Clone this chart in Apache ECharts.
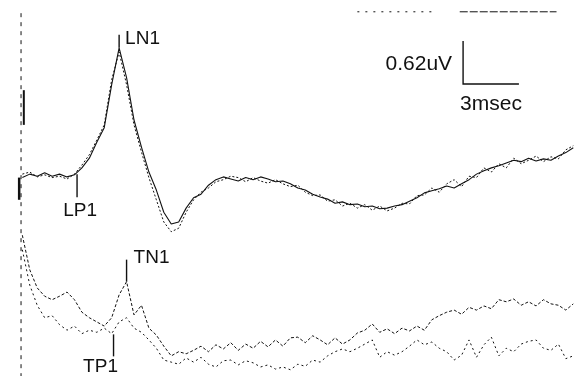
<!DOCTYPE html>
<html>
<head>
<meta charset="utf-8">
<script src="https://cdn.jsdelivr.net/npm/echarts@6/dist/echarts.min.js"></script>
<style>
  html, body { margin: 0; padding: 0; background: #fff; }
  #chart { width: 577px; height: 376px; }
</style>
</head>
<body>
<div id="chart"></div>
<script>
// Sampling grid of the averaged sweeps (ms after the stimulus)
const sampleStartMs = 0.2;
const sampleStepMs = 0.4;

// Upper channel (L waves), two superimposed runs, in uV
const upperRun1 = [
  2.86, 2.91, 2.88, 2.93, 2.88, 2.91, 2.87, 2.90, 3.00, 3.14,
  3.37, 3.58, 4.20, 4.73, 4.30, 3.69, 3.30, 2.94, 2.68, 2.36,
  2.19, 2.22, 2.42, 2.57, 2.62, 2.75, 2.83, 2.87, 2.84, 2.81,
  2.86, 2.83, 2.87, 2.84, 2.80, 2.81, 2.77, 2.71, 2.68, 2.62,
  2.58, 2.55, 2.49, 2.51, 2.47, 2.48, 2.44, 2.45, 2.41, 2.42,
  2.45, 2.47, 2.52, 2.57, 2.64, 2.67, 2.70, 2.74, 2.71, 2.77,
  2.83, 2.91, 2.96, 3.00, 3.03, 3.07, 3.11, 3.09, 3.14, 3.10,
  3.13, 3.11, 3.17, 3.22, 3.29
];
const upperRun2 = [
  2.91, 2.94, 2.87, 2.90, 2.86, 2.88, 2.84, 2.91, 3.04, 3.19,
  3.40, 3.62, 4.27, 4.67, 4.20, 3.62, 3.23, 2.86, 2.54, 2.22,
  2.08, 2.13, 2.36, 2.54, 2.65, 2.71, 2.80, 2.83, 2.88, 2.86,
  2.80, 2.86, 2.81, 2.78, 2.83, 2.77, 2.73, 2.75, 2.65, 2.60,
  2.61, 2.52, 2.54, 2.45, 2.49, 2.42, 2.47, 2.39, 2.45, 2.38,
  2.42, 2.49, 2.48, 2.60, 2.61, 2.71, 2.65, 2.77, 2.83, 2.73,
  2.88, 2.86, 3.00, 2.94, 3.06, 3.00, 3.14, 3.06, 3.11, 3.17,
  3.09, 3.16, 3.13, 3.26, 3.32
];

// Lower channel (T waves), two superimposed runs, in uV
const lowerRun1 = [
  2.03, 1.53, 1.27, 1.15, 1.10, 1.15, 1.21, 1.10, 0.92, 0.84,
  0.78, 0.72, 0.84, 1.17, 1.36, 0.88, 1.02, 0.69, 0.59, 0.43,
  0.29, 0.35, 0.32, 0.37, 0.43, 0.35, 0.45, 0.39, 0.48, 0.37,
  0.46, 0.40, 0.50, 0.42, 0.52, 0.43, 0.55, 0.56, 0.48, 0.58,
  0.52, 0.45, 0.55, 0.46, 0.52, 0.62, 0.66, 0.75, 0.63, 0.68,
  0.61, 0.69, 0.65, 0.72, 0.66, 0.81, 0.87, 0.92, 0.95, 0.89,
  0.99, 0.95, 1.01, 0.97, 1.10, 1.07, 1.11, 1.02, 1.07, 1.01,
  1.10, 1.04, 1.02, 0.95, 1.04
];
const lowerRun2 = [
  1.82, 1.31, 1.02, 0.84, 0.87, 0.74, 0.66, 0.72, 0.61, 0.66,
  0.63, 0.69, 0.61, 0.78, 0.84, 0.69, 0.63, 0.52, 0.40, 0.23,
  0.20, 0.17, 0.26, 0.20, 0.27, 0.17, 0.13, 0.22, 0.23, 0.16,
  0.22, 0.19, 0.13, 0.16, 0.10, 0.13, 0.09, 0.17, 0.14, 0.23,
  0.20, 0.29, 0.35, 0.39, 0.35, 0.40, 0.46, 0.52, 0.27, 0.35,
  0.30, 0.35, 0.43, 0.52, 0.45, 0.49, 0.40, 0.35, 0.23, 0.30,
  0.52, 0.27, 0.45, 0.56, 0.29, 0.40, 0.35, 0.46, 0.50, 0.52,
  0.40, 0.37, 0.46, 0.25, 0.29
];

// Labelled components: latency (ms) and amplitude (uV)
const peakNames = ['LN1', 'LP1', 'TN1', 'TP1'];
const peakLatencyMs = [5.4, 3.14, 5.8, 5.1];
const peakAmplitudeUV = [4.73, 2.91, 1.36, 0.60];

// Calibration
const scaleBarUV = 0.62;
const scaleBarMs = 3;

// Stimulus artifact (ms) and its extent (uV)
const artifactMs = 0.13;
const artifactSpanUV = [0, 5.23];
const artifactBurstsUV = [[4.12, 3.62], [2.86, 2.54]];

// Fragment of a further sweep along the top edge
const topSweepA = [[18.2, 5.25], [22.3, 5.25]];
const topSweepB = [[23.7, 5.25], [28.9, 5.25]];

// ---- layout / styling ----
const times = upperRun1.map((_, i) => +(sampleStartMs + i * sampleStepMs).toFixed(2));
const pairs = (vals) => vals.map((v, i) => [times[i], v]);

const INK = '#111';
const labelFont = '19px "Liberation Sans", Arial, sans-serif';
const scaleFont = '21px "Liberation Sans", Arial, sans-serif';

// tick length (px, negative = upward) and label offsets for each component
const markerLayout = [
  { tick: -13, dx: 6, dy: 4, align: 'left' },
  { tick: 23, dx: 3, dy: 14, align: 'center' },
  { tick: -22, dx: 7, dy: -2, align: 'left' },
  { tick: 22, dx: -13, dy: 10, align: 'center' }
];
const scaleCorner = [23.88, 4.21];

const traceLine = (name, data, width, dash) => ({
  name, type: 'line', data, showSymbol: false, symbol: 'none', silent: true,
  lineStyle: { color: INK, width, type: dash || 'solid' }, z: 2
});

const chart = echarts.init(document.getElementById('chart'), null, { renderer: 'canvas' });

chart.setOption({
  animation: false,
  backgroundColor: '#fff',
  grid: { left: 0, right: 0, top: 0, bottom: 0 },
  xAxis: { type: 'value', min: -1, max: 30, show: false },
  yAxis: { type: 'value', min: 0, max: 5.42, show: false },
  series: [
    traceLine('upper-1', pairs(upperRun1), 1.1),
    traceLine('upper-2', pairs(upperRun2), 1, [2, 2]),
    traceLine('lower-1', pairs(lowerRun1), 1, [3, 2]),
    traceLine('lower-2', pairs(lowerRun2), 1, [2, 3]),
    traceLine('artifact', [[artifactMs, artifactSpanUV[1]], [artifactMs, artifactSpanUV[0]]], 1, [4, 5]),
    traceLine('burst-1', [[artifactMs + 0.15, artifactBurstsUV[0][0]], [artifactMs + 0.15, artifactBurstsUV[0][1]]], 2),
    traceLine('burst-2', [[artifactMs - 0.1, artifactBurstsUV[1][0]], [artifactMs - 0.1, artifactBurstsUV[1][1]]], 2.5),
    traceLine('top-a', topSweepA, 1, [2, 6]),
    traceLine('top-b', topSweepB, 1, [8, 2]),
    {
      name: 'components',
      type: 'custom',
      silent: true,
      z: 5,
      data: peakNames.map((n, i) => [peakLatencyMs[i], peakAmplitudeUV[i]]),
      renderItem(params, api) {
        const i = params.dataIndex;
        const p = api.coord([api.value(0), api.value(1)]);
        const lay = markerLayout[i];
        const y2 = p[1] + lay.tick;
        return {
          type: 'group',
          children: [
            { type: 'line', shape: { x1: p[0], y1: p[1], x2: p[0], y2 },
              style: { stroke: INK, lineWidth: 1.4 } },
            { type: 'text', x: p[0] + lay.dx, y: y2 + lay.dy,
              style: { text: peakNames[i], font: labelFont, fill: INK,
                       align: lay.align, verticalAlign: 'middle' } }
          ]
        };
      }
    },
    {
      name: 'calibration',
      type: 'custom',
      silent: true,
      z: 5,
      data: [scaleCorner],
      renderItem(params, api) {
        const c = [api.value(0), api.value(1)];
        const corner = api.coord(c);
        const top = api.coord([c[0], c[1] + scaleBarUV]);
        const right = api.coord([c[0] + scaleBarMs, c[1]]);
        return {
          type: 'group',
          children: [
            { type: 'polyline', shape: { points: [top, corner, right] },
              style: { stroke: INK, lineWidth: 1.4, fill: null } },
            { type: 'text', x: corner[0] - 11, y: (top[1] + corner[1]) / 2 + 2,
              style: { text: scaleBarUV + 'uV', font: scaleFont, fill: INK,
                       align: 'right', verticalAlign: 'middle' } },
            { type: 'text', x: corner[0] - 3, y: corner[1] + 20,
              style: { text: scaleBarMs + 'msec', font: scaleFont, fill: INK,
                       align: 'left', verticalAlign: 'middle' } }
          ]
        };
      }
    }
  ]
});
</script>
</body>
</html>
